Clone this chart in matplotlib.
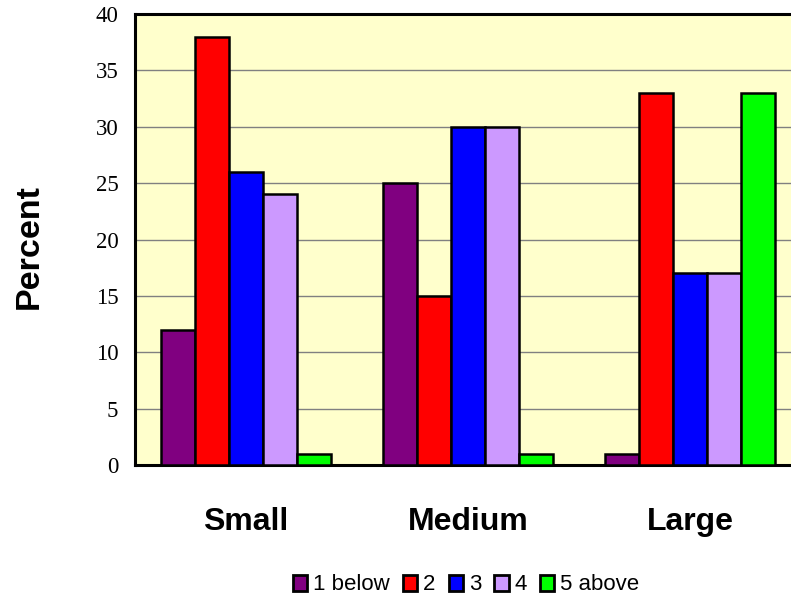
import matplotlib
matplotlib.use('Agg')
import matplotlib.pyplot as plt
import numpy as np

categories = ['Small', 'Medium', 'Large']
series = ['1 below', '2', '3', '4', '5 above']
values = [
    [12, 25, 1],
    [38, 15, 33],
    [26, 30, 17],
    [24, 30, 17],
    [1, 1, 33],
]
colors = ['#800080', '#FF0000', '#0000FF', '#CC99FF', '#00FF00']

fig = plt.figure(figsize=(7.91, 6.01), dpi=100)
ax = fig.add_axes([135 / 791, 136 / 601, 666 / 791, 451 / 601])
ax.set_facecolor('#FFFFCC')

x = np.arange(len(categories))
w = 0.153
for i, (name, vals) in enumerate(zip(series, values)):
    ax.bar(x + (i - 2) * w, vals, w, color=colors[i], edgecolor='black',
           linewidth=1.8, label=name, zorder=3)

ax.set_xlim(-0.5, 2.5)
ax.set_ylim(0, 40)
ax.set_yticks(range(0, 41, 5))
ax.set_yticklabels([str(v) for v in range(0, 41, 5)],
                   fontfamily='Liberation Serif', fontsize=16.5)
ax.yaxis.grid(True, color='#808080', linewidth=1, zorder=0)
ax.tick_params(axis='y', length=0, pad=12)
ax.set_xticks(x)
ax.set_xticklabels(categories, fontfamily='Liberation Sans', fontsize=23,
                   fontweight='bold')
ax.tick_params(axis='x', length=0, pad=30)
for s in ['left', 'top', 'bottom']:
    ax.spines[s].set_linewidth(2.2)
ax.spines['right'].set_visible(False)

fig.text(29 / 791, 1 - 247 / 601, 'Percent', rotation=90, ha='center',
         va='center', fontfamily='Liberation Sans', fontsize=24.5,
         fontweight='bold')

leg = fig.legend(loc='center', bbox_to_anchor=(466 / 791, 1 - 585 / 601),
                 ncol=5, frameon=False, handlelength=0.65, handleheight=0.7,
                 handletextpad=0.25, columnspacing=0.6,
                 prop={'family': 'Liberation Sans', 'size': 16})
for h in leg.legend_handles:
    h.set_linewidth(2)

plt.savefig('out.png', dpi=100)
